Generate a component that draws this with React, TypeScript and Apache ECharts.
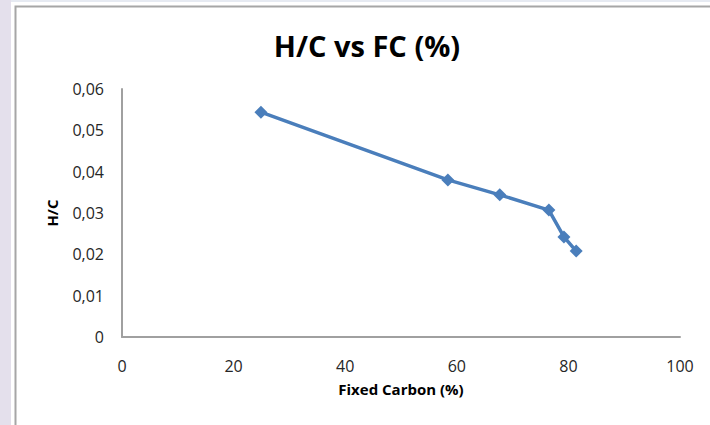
import React, { useEffect, useRef } from "react";
import * as echarts from "echarts";

const fixedCarbon = [24.9, 58.4, 67.7, 76.5, 79.2, 81.4];
const hcRatio = [0.0544, 0.038, 0.0344, 0.0307, 0.0242, 0.0208];
const xTicks = { min: 0, max: 100, interval: 20 };
const yTicks = { min: 0, max: 0.06, interval: 0.01 };

const FONT = "'Open Sans', Lato, sans-serif";

export default function App() {
  const ref = useRef<HTMLDivElement>(null);
  useEffect(() => {
    document.body.style.margin = "0";
    const chart = echarts.init(ref.current!, null, { renderer: "svg" });
    chart.setOption({
      animation: false,
      backgroundColor: "#ffffff",
      graphic: [
        { type: "rect", z: -10, shape: { x: 0, y: 0, width: 11, height: 425 }, style: { fill: "#e4e0ec" } },
        { type: "rect", z: -10, shape: { x: 11, y: 0, width: 699, height: 2 }, style: { fill: "#e6eaf2" } },
        { type: "rect", z: -9, shape: { x: 15.5, y: 6.5, width: 720, height: 440 }, style: { fill: "#ffffff", stroke: "#a6a6a6", lineWidth: 2 } },
      ],
      title: {
        text: "H/C vs FC (%)",
        left: 362,
        top: 26,
        textAlign: "center",
        textStyle: { fontFamily: FONT, fontWeight: "bold", fontSize: 29, color: "#000000" },
      },
      grid: { left: 122, right: 30, top: 89, bottom: 88 },
      xAxis: {
        type: "value",
        min: xTicks.min,
        max: xTicks.max,
        interval: xTicks.interval,
        name: "Fixed Carbon (%)",
        nameLocation: "middle",
        nameGap: 44,
        nameTextStyle: { fontFamily: FONT, fontWeight: "bold", fontSize: 15, color: "#000000" },
        axisLine: { show: true, lineStyle: { color: "#a0a0a0", width: 2 } },
        axisTick: { show: false },
        splitLine: { show: false },
        axisLabel: { fontFamily: FONT, fontSize: 16, color: "#262626", margin: 21 },
      },
      yAxis: {
        type: "value",
        min: yTicks.min,
        max: yTicks.max,
        interval: yTicks.interval,
        name: "H/C",
        nameLocation: "middle",
        nameGap: 63,
        nameRotate: 90,
        nameTextStyle: { fontFamily: FONT, fontWeight: "bold", fontSize: 15, color: "#000000" },
        axisLine: { show: true, lineStyle: { color: "#a0a0a0", width: 2 } },
        axisTick: { show: false },
        splitLine: { show: false },
        axisLabel: {
          fontFamily: FONT,
          fontSize: 16,
          color: "#262626",
          margin: 18,
          formatter: (v: number) => (v === 0 ? "0" : v.toFixed(2).replace(".", ",")),
        },
      },
      series: [
        {
          type: "line",
          data: fixedCarbon.map((x, i) => [x, hcRatio[i]]),
          symbol: "diamond",
          symbolSize: 13,
          lineStyle: { color: "#4a7ebb", width: 3.5 },
          itemStyle: { color: "#4a7ebb" },
        },
      ],
    });
    return () => chart.dispose();
  }, []);
  return <div ref={ref} style={{ width: 710, height: 425 }} />;
}
